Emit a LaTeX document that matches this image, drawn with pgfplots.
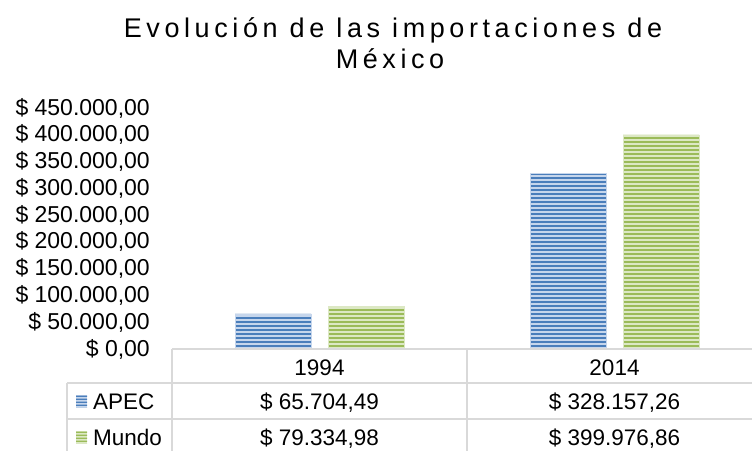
\documentclass[border=0pt]{standalone}
\usepackage{pgfplots}
\pgfplotsset{compat=1.18}
\usepackage{fontspec}
\setmainfont{Liberation Sans}
\newfontfamily\titlefont[LetterSpace=17]{Liberation Sans}
\usetikzlibrary{patterns}
\pgfdeclarepatternformonly{hstripes}{\pgfpoint{0pt}{0pt}}{\pgfpoint{200pt}{4pt}}{\pgfpoint{200pt}{4pt}}{%
  \pgfpathrectangle{\pgfpoint{-1pt}{0pt}}{\pgfpoint{202pt}{2.2pt}}\pgfusepath{fill}}
\pgfdeclarepatternformonly{hstripessmall}{\pgfpoint{0pt}{0pt}}{\pgfpoint{50pt}{3pt}}{\pgfpoint{50pt}{3pt}}{%
  \pgfpathrectangle{\pgfpoint{-1pt}{0pt}}{\pgfpoint{52pt}{1.6pt}}\pgfusepath{fill}}
\definecolor{bluedark}{HTML}{4A7EBB}
\definecolor{bluelight}{HTML}{C6D6EC}
\definecolor{greendark}{HTML}{9BBB59}
\definecolor{greenlight}{HTML}{DCE8C4}
\definecolor{tline}{HTML}{D9D9D9}
\begin{document}
\begin{tikzpicture}[x=1pt,y=1pt]
\clip (0,0) rectangle (752,-450);
\fill[white] (0,0) rectangle (752,-450);
\node[anchor=base, inner sep=0pt, font=\titlefont\fontsize{27}{30}\selectfont] at (393,-37) {Evolución de las importaciones de};
\node[anchor=base, inner sep=0pt, font=\titlefont\fontsize{27}{30}\selectfont] at (390,-68) {México};
\begin{axis}[at={(172pt,-349pt)}, anchor=south west, scale only axis,
  width=590pt, height=241pt, xmin=-0.5, xmax=1.5, ymin=0, ymax=450000,
  ybar=17pt, bar width=76pt, axis line style={draw=none}, major tick length=0pt,
  scaled y ticks=false,
  xtick=\empty, ytick={0,50000,100000,150000,200000,250000,300000,350000,400000,450000},
  yticklabels={{\$ 0,00},{\$ 50.000,00},{\$ 100.000,00},{\$ 150.000,00},{\$ 200.000,00},{\$ 250.000,00},{\$ 300.000,00},{\$ 350.000,00},{\$ 400.000,00},{\$ 450.000,00}},
  yticklabel style={font=\fontsize{23}{27}\selectfont, inner sep=0pt, xshift=-22pt},
  clip=false]
\addplot[draw=bluelight, fill=bluelight, postaction={pattern=hstripes, pattern color=bluedark}] coordinates {(0,65704.49) (1,328157.26)};
\addplot[draw=greenlight, fill=greenlight, postaction={pattern=hstripes, pattern color=greendark}] coordinates {(0,79334.98) (1,399976.86)};
\end{axis}
\begin{scope}[tline, line width=1.4pt]
\draw (172,-349) -- (762,-349);
\draw (67,-383) -- (762,-383);
\draw (67,-419) -- (762,-419);
\draw (67,-455) -- (762,-455);
\draw (172,-349) -- (172,-460);
\draw (467,-349) -- (467,-460);
\draw (67,-383) -- (67,-460);
\end{scope}
\begin{scope}[every node/.style={anchor=base, inner sep=0pt, font=\fontsize{22.5}{27}\selectfont}]
\node at (319.5,-375) {1994};
\node at (614.5,-375) {2014};
\node at (319.5,-409) {\$ 65.704,49};
\node at (614.5,-409) {\$ 328.157,26};
\node at (319.5,-445) {\$ 79.334,98};
\node at (614.5,-445) {\$ 399.976,86};
\node[anchor=base west] at (93,-409) {APEC};
\node[anchor=base west] at (93,-445) {Mundo};
\end{scope}
\fill[bluelight] (76,-395) rectangle (87,-407);
\path[pattern=hstripessmall, pattern color=bluedark] (76,-395) rectangle (87,-407);
\fill[greenlight] (76,-431) rectangle (87,-443);
\path[pattern=hstripessmall, pattern color=greendark] (76,-431) rectangle (87,-443);
\end{tikzpicture}
\end{document}
